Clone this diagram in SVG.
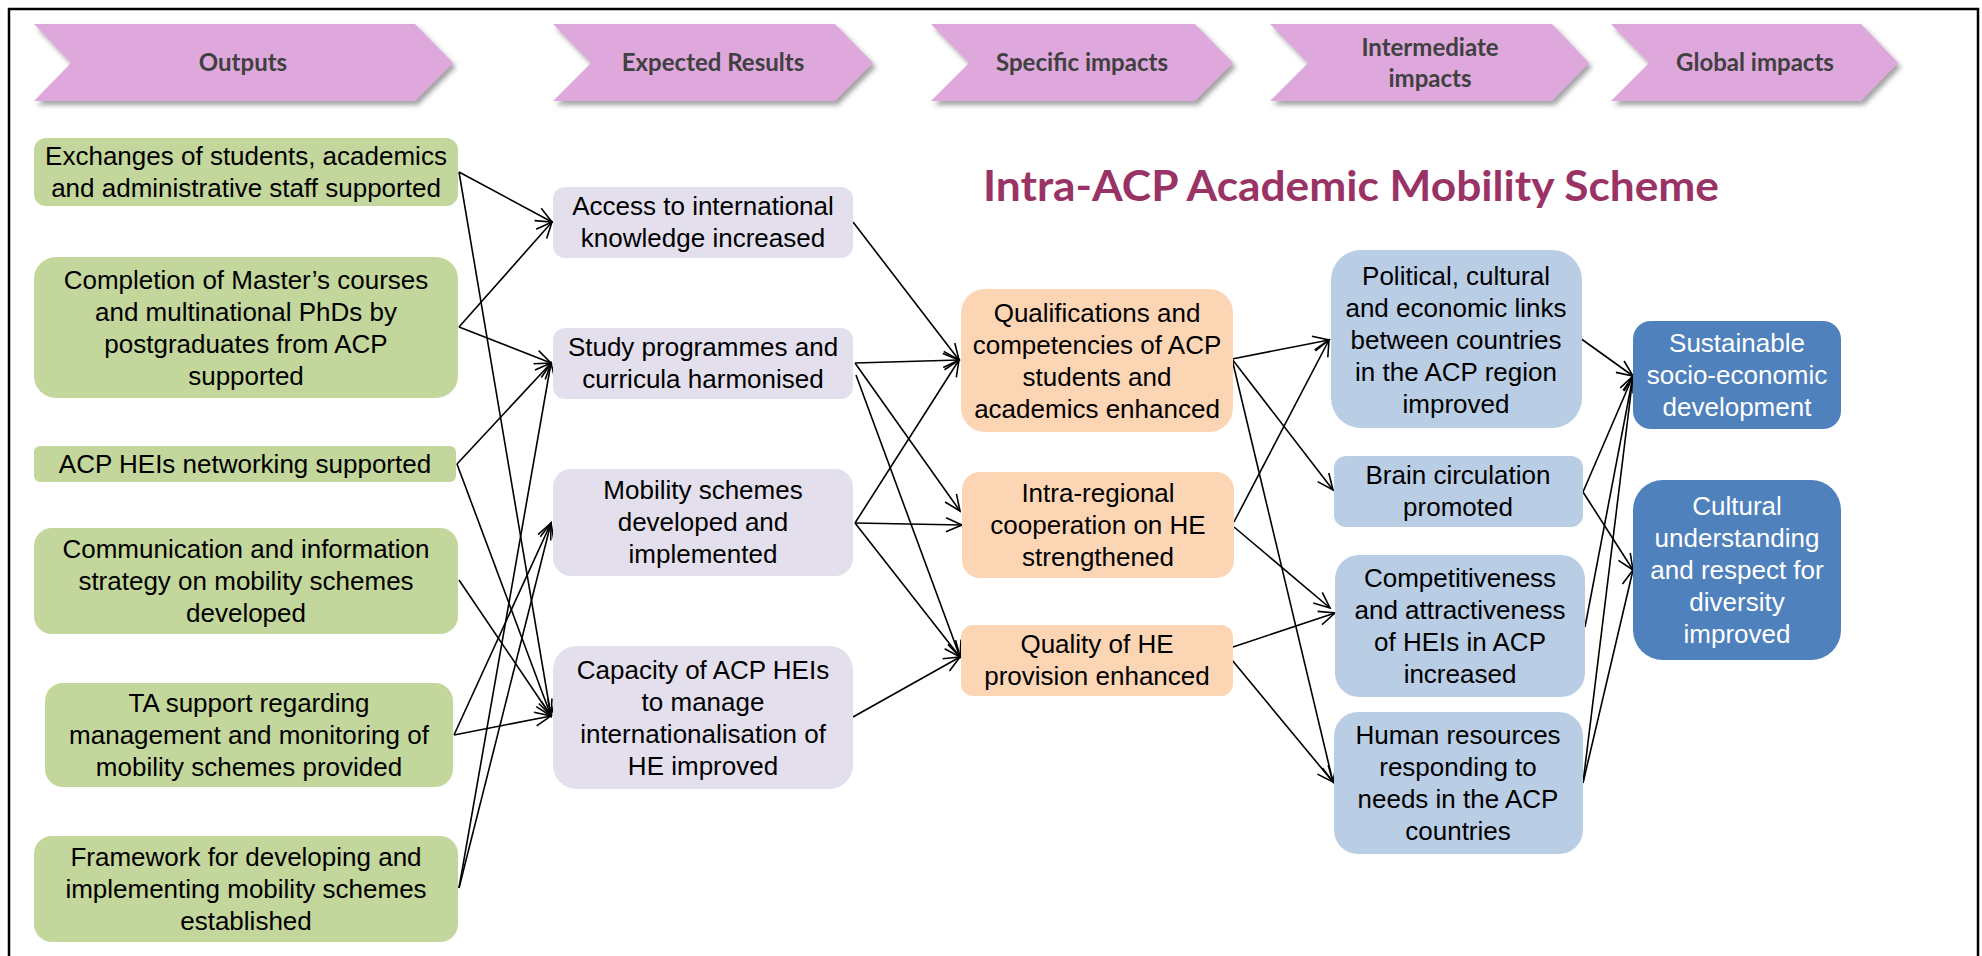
<svg xmlns="http://www.w3.org/2000/svg" width="1982" height="956" viewBox="0 0 1982 956">
<defs>
<style>
.t{font-family:"Liberation Sans",Arial,sans-serif;font-size:26px;fill:#000;text-anchor:middle}
.tw{fill:#fff}
.hd{font-family:Lato,"Open Sans",sans-serif;font-weight:bold;font-size:24px;fill:#404040;text-anchor:middle}
.chev{fill:#DEA8DC;filter:url(#sh)}
.g{fill:#C3D69B}.l{fill:#E4DFEC}.p{fill:#FCD5B5}.b{fill:#B9CDE5}.d{fill:#4F81BD}
.c line{stroke:#000;stroke-width:1.6;marker-end:url(#ah)}
</style>
<filter id="sh" x="-5%" y="-10%" width="115%" height="140%">
<feDropShadow dx="3" dy="4" stdDeviation="2.5" flood-color="#555" flood-opacity="0.55"/>
</filter>
<marker id="ah" markerUnits="userSpaceOnUse" viewBox="-18 -9 20 18" markerWidth="20" markerHeight="18" refX="0" refY="0" orient="auto">
<path d="M-16,-7 L0,0 L-16,7" fill="none" stroke="#000" stroke-width="1.6"/>
</marker>
</defs>
<rect width="1982" height="956" fill="#fff"/>
<rect x="9" y="9" width="1969" height="960" fill="none" stroke="#000" stroke-width="2.5"/>

<g id="header">
<g id="h-outputs"><polygon class="chev" points="34,24 415,24 453,63 415,101 34,101 71,63"/><text class="hd" x="243" y="71">Outputs</text></g>
<g id="h-results"><polygon class="chev" points="553,24 835,24 873,63 835,101 553,101 591,63"/><text class="hd" x="713" y="71">Expected Results</text></g>
<g id="h-specific"><polygon class="chev" points="931,24 1195,24 1233,63 1195,101 931,101 969,63"/><text class="hd" x="1082" y="71">Specific impacts</text></g>
<g id="h-intermediate"><polygon class="chev" points="1270,24 1552,24 1589,63 1552,101 1270,101 1308,63"/><text class="hd" x="1430" y="56">Intermediate</text><text class="hd" x="1430" y="87">impacts</text></g>
<g id="h-global"><polygon class="chev" points="1611,24 1861,24 1898,63 1861,101 1611,101 1649,63"/><text class="hd" x="1755" y="71">Global impacts</text></g>
</g>

<text id="title" x="983" y="201" font-family="Lato,'Open Sans',sans-serif" font-weight="bold" font-size="42" fill="#993366" textLength="736" lengthAdjust="spacingAndGlyphs">Intra-ACP Academic Mobility Scheme</text>

<g id="connectors" class="c">
<line x1="459" y1="172" x2="552" y2="222"/>
<line x1="459" y1="172" x2="551" y2="716"/>
<line x1="459" y1="327" x2="552" y2="222"/>
<line x1="459" y1="327" x2="551" y2="363"/>
<line x1="457" y1="464" x2="551" y2="363"/>
<line x1="457" y1="464" x2="551" y2="716"/>
<line x1="459" y1="580" x2="551" y2="716"/>
<line x1="454" y1="735" x2="551" y2="523"/>
<line x1="454" y1="735" x2="551" y2="716"/>
<line x1="459" y1="888" x2="551" y2="363"/>
<line x1="459" y1="888" x2="551" y2="523"/>

<line x1="853" y1="222" x2="959" y2="360"/>
<line x1="855" y1="363" x2="959" y2="360"/>
<line x1="855" y1="363" x2="960" y2="511"/>
<line x1="856" y1="375" x2="960" y2="657"/>
<line x1="855" y1="523" x2="959" y2="360"/>
<line x1="855" y1="523" x2="962" y2="525"/>
<line x1="855" y1="523" x2="960" y2="657"/>
<line x1="853" y1="717" x2="960" y2="657"/>

<line x1="1232" y1="359" x2="1329" y2="340"/>
<line x1="1232" y1="359" x2="1333" y2="490"/>
<line x1="1232" y1="359" x2="1333" y2="782"/>
<line x1="1234" y1="522" x2="1329" y2="340"/>
<line x1="1234" y1="527" x2="1330" y2="608"/>
<line x1="1233" y1="647" x2="1335" y2="613"/>
<line x1="1232" y1="660" x2="1333" y2="782"/>

<line x1="1580" y1="338" x2="1633" y2="376"/>
<line x1="1583" y1="492" x2="1633" y2="376"/>
<line x1="1583" y1="492" x2="1633" y2="570"/>
<line x1="1585" y1="627" x2="1633" y2="376"/>
<line x1="1583" y1="783" x2="1633" y2="376"/>
<line x1="1583" y1="783" x2="1633" y2="570"/>
</g>

<g id="n-exchanges"><rect class="g" x="34" y="138" width="424" height="68" rx="12"/><text class="t" x="246" y="165">Exchanges of students, academics</text><text class="t" x="246" y="197">and administrative staff supported</text></g>
<g id="n-completion"><rect class="g" x="34" y="257" width="424" height="141" rx="22"/><text class="t" x="246" y="289">Completion of Master’s courses</text><text class="t" x="246" y="321">and multinational PhDs by</text><text class="t" x="246" y="353">postgraduates from ACP</text><text class="t" x="246" y="385">supported</text></g>
<g id="n-networking"><rect class="g" x="34" y="446" width="422" height="36" rx="6"/><text class="t" x="245" y="473">ACP HEIs networking supported</text></g>
<g id="n-communication"><rect class="g" x="34" y="528" width="424" height="106" rx="18"/><text class="t" x="246" y="558">Communication and information</text><text class="t" x="246" y="590">strategy on mobility schemes</text><text class="t" x="246" y="622">developed</text></g>
<g id="n-ta"><rect class="g" x="45" y="683" width="408" height="104" rx="18"/><text class="t" x="249" y="712">TA support regarding</text><text class="t" x="249" y="744">management and monitoring of</text><text class="t" x="249" y="776">mobility schemes provided</text></g>
<g id="n-framework"><rect class="g" x="34" y="836" width="424" height="106" rx="18"/><text class="t" x="246" y="866">Framework for developing and</text><text class="t" x="246" y="898">implementing mobility schemes</text><text class="t" x="246" y="930">established</text></g>

<g id="n-access"><rect class="l" x="553" y="187" width="300" height="71" rx="12"/><text class="t" x="703" y="215">Access to international</text><text class="t" x="703" y="247">knowledge increased</text></g>
<g id="n-study"><rect class="l" x="553" y="328" width="300" height="71" rx="12"/><text class="t" x="703" y="356">Study programmes and</text><text class="t" x="703" y="388">curricula harmonised</text></g>
<g id="n-mobility"><rect class="l" x="553" y="469" width="300" height="107" rx="18"/><text class="t" x="703" y="499">Mobility schemes</text><text class="t" x="703" y="531">developed and</text><text class="t" x="703" y="563">implemented</text></g>
<g id="n-capacity"><rect class="l" x="553" y="646" width="300" height="143" rx="24"/><text class="t" x="703" y="679">Capacity of ACP HEIs</text><text class="t" x="703" y="711">to manage</text><text class="t" x="703" y="743">internationalisation of</text><text class="t" x="703" y="775">HE improved</text></g>

<g id="n-qualifications"><rect class="p" x="961" y="289" width="272" height="143" rx="24"/><text class="t" x="1097" y="322">Qualifications and</text><text class="t" x="1097" y="354">competencies of ACP</text><text class="t" x="1097" y="386">students and</text><text class="t" x="1097" y="418">academics enhanced</text></g>
<g id="n-intraregional"><rect class="p" x="962" y="472" width="272" height="106" rx="18"/><text class="t" x="1098" y="502">Intra-regional</text><text class="t" x="1098" y="534">cooperation on HE</text><text class="t" x="1098" y="566">strengthened</text></g>
<g id="n-quality"><rect class="p" x="961" y="625" width="272" height="71" rx="12"/><text class="t" x="1097" y="653">Quality of HE</text><text class="t" x="1097" y="685">provision enhanced</text></g>

<g id="n-political"><rect class="b" x="1331" y="250" width="251" height="178" rx="30"/><text class="t" x="1456" y="285">Political, cultural</text><text class="t" x="1456" y="317">and economic links</text><text class="t" x="1456" y="349">between countries</text><text class="t" x="1456" y="381">in the ACP region</text><text class="t" x="1456" y="413">improved</text></g>
<g id="n-brain"><rect class="b" x="1334" y="456" width="249" height="71" rx="12"/><text class="t" x="1458" y="484">Brain circulation</text><text class="t" x="1458" y="516">promoted</text></g>
<g id="n-competitiveness"><rect class="b" x="1335" y="555" width="250" height="142" rx="24"/><text class="t" x="1460" y="587">Competitiveness</text><text class="t" x="1460" y="619">and attractiveness</text><text class="t" x="1460" y="651">of HEIs in ACP</text><text class="t" x="1460" y="683">increased</text></g>
<g id="n-human"><rect class="b" x="1334" y="712" width="249" height="142" rx="24"/><text class="t" x="1458" y="744">Human resources</text><text class="t" x="1458" y="776">responding to</text><text class="t" x="1458" y="808">needs in the ACP</text><text class="t" x="1458" y="840">countries</text></g>

<g id="n-sustainable"><rect class="d" x="1633" y="321" width="208" height="108" rx="18"/><text class="t tw" x="1737" y="352">Sustainable</text><text class="t tw" x="1737" y="384">socio-economic</text><text class="t tw" x="1737" y="416">development</text></g>
<g id="n-cultural"><rect class="d" x="1633" y="480" width="208" height="180" rx="30"/><text class="t tw" x="1737" y="515">Cultural</text><text class="t tw" x="1737" y="547">understanding</text><text class="t tw" x="1737" y="579">and respect for</text><text class="t tw" x="1737" y="611">diversity</text><text class="t tw" x="1737" y="643">improved</text></g>
</svg>
